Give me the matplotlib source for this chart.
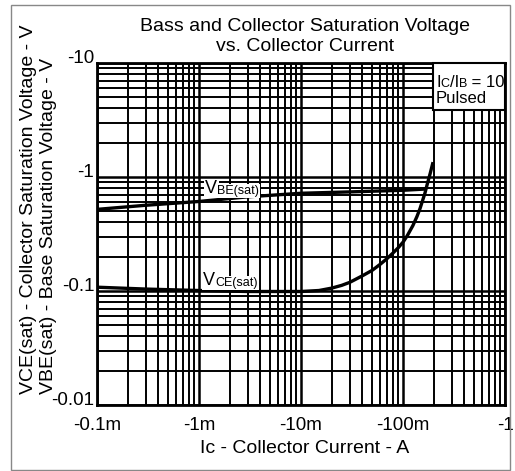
import matplotlib
matplotlib.use("Agg")
import matplotlib.pyplot as plt
from matplotlib.patches import Rectangle
from matplotlib.ticker import FixedLocator, FixedFormatter, LogLocator, NullFormatter

plt.rcParams['font.family'] = ['Liberation Sans', 'DejaVu Sans']

# ---- data ----
ic_vbe = [1e-4, 3e-4, 1e-3, 3e-3, 1e-2, 3e-2, 0.1, 0.17]
vbe = [0.52, 0.565, 0.61, 0.67, 0.72, 0.74, 0.765, 0.785]

ic_vce = [1e-4, 3e-4, 1e-3, 3e-3, 1e-2, 1.5e-2, 2e-2, 2.5e-2, 3e-2, 4e-2,
          5e-2, 6e-2, 7e-2, 8e-2, 9e-2, 0.1, 0.11, 0.125, 0.137, 0.147,
          0.155, 0.164, 0.172, 0.185, 0.197]
vce = [0.108, 0.104, 0.101, 0.099, 0.099, 0.101, 0.106, 0.112, 0.119, 0.136,
       0.152, 0.172, 0.193, 0.216, 0.24, 0.268, 0.305, 0.375, 0.45, 0.53,
       0.615, 0.72, 0.85, 1.08, 1.35]

x_ticks = [1e-4, 1e-3, 1e-2, 1e-1, 1]
x_labels = ['-0.1m', '-1m', '-10m', '-100m', '-1']
y_ticks = [0.01, 0.1, 1, 10]
y_labels = ['-0.01', '-0.1', '-1', '-10']

W, H = 515, 471
fig = plt.figure(figsize=(W / 100, H / 100), dpi=100)
ax = fig.add_axes([97 / W, (H - 405) / H, 408 / W, 342 / H])

ax.plot(ic_vbe, vbe, color='black', lw=2.4, zorder=4, solid_capstyle='butt')
ax.plot(ic_vce, vce, color='black', lw=2.4, zorder=4, solid_capstyle='butt',
        solid_joinstyle='round')

ax.set_xscale('log')
ax.set_yscale('log')
ax.set_xlim(1e-4, 1)
ax.set_ylim(0.01, 10)

ax.xaxis.set_major_locator(FixedLocator(x_ticks))
ax.xaxis.set_major_formatter(FixedFormatter(x_labels))
ax.yaxis.set_major_locator(FixedLocator(y_ticks))
ax.yaxis.set_major_formatter(FixedFormatter(y_labels))
ax.xaxis.set_minor_locator(LogLocator(base=10, subs=range(2, 10), numticks=20))
ax.yaxis.set_minor_locator(LogLocator(base=10, subs=range(2, 10), numticks=20))
ax.xaxis.set_minor_formatter(NullFormatter())
ax.yaxis.set_minor_formatter(NullFormatter())

ax.grid(which='major', color='black', lw=1.8)
ax.grid(which='minor', color='black', lw=1.4)
ax.set_axisbelow(True)
ax.tick_params(which='both', length=0)
ax.tick_params(axis='x', labelsize=13.5, pad=9)
ax.tick_params(axis='y', labelsize=13.5, pad=2)
for lab in ax.get_yticklabels():
    lab.set_verticalalignment('baseline')
for s in ax.spines.values():
    s.set_linewidth(2)
    s.set_color('black')

# condition box
ax.add_patch(Rectangle((0.8235, 0.8626), 0.1765, 0.1374, transform=ax.transAxes,
                       facecolor='white', edgecolor='black', lw=1.5, zorder=5,
                       clip_on=False))


def chain(parts, x, y, transform, bbox=None):
    first = True
    prev = None
    for s, fs in parts:
        if first:
            prev = ax.text(x, y, s, fontsize=fs, transform=transform,
                           ha='left', va='baseline', zorder=7, bbox=bbox)
            first = False
        else:
            prev = ax.annotate(s, xy=(1, 0), xycoords=prev, fontsize=fs,
                               ha='left', va='bottom', zorder=7, bbox=bbox)
    return prev


chain([('I', 12), ('C', 9), ('/I', 12), ('B', 9), (' = 10', 12)],
      0.831, 0.930, ax.transAxes)
ax.text(0.831, 0.883, 'Pulsed', fontsize=12, transform=ax.transAxes,
        ha='left', va='baseline', zorder=7)

wb = dict(facecolor='white', edgecolor='none', pad=1.0)
chain([('V', 13), ('BE(sat)', 9)], 1.15e-3, 0.724, ax.transData, bbox=wb)
chain([('V', 13), ('CE(sat)', 9)], 1.1e-3, 0.113, ax.transData, bbox=wb)

# titles and labels
fig.text(305 / W, 1 - 18 / H,
         'Bass and Collector Saturation Voltage\nvs. Collector Current',
         ha='center', va='top', fontsize=14, linespacing=1.2)
fig.text(305 / W, (H - 453) / H, 'Ic - Collector Current - A',
         ha='center', va='baseline', fontsize=14)
fig.text(29 / W, (H - 394) / H, 'VCE(sat) - Collector Saturation Voltage - V',
         rotation=90, ha='center', va='bottom', fontsize=14)
fig.text(49 / W, (H - 394) / H, 'VBE(sat) - Base Saturation Voltage - V',
         rotation=90, ha='center', va='bottom', fontsize=14)

fig.patches.append(Rectangle((11 / W, 1 / H), 499 / W, 465 / H,
                             transform=fig.transFigure, fill=False,
                             edgecolor='#888888', lw=1))

fig.savefig('out.png', dpi=100)
